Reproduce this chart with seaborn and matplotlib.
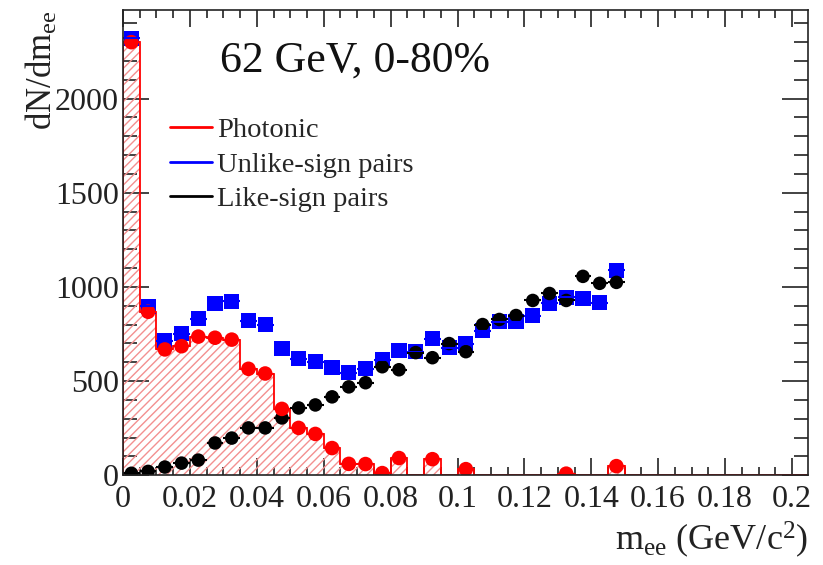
import numpy as np
import pandas as pd
import seaborn as sns
import matplotlib.pyplot as plt
from matplotlib.lines import Line2D
from matplotlib.ticker import MultipleLocator

# histogram binning (GeV/c^2)
bin_edges = np.round(np.arange(0, 0.2051, 0.005), 4)
bin_centers = np.round(bin_edges[:-1] + 0.0025, 4)
half_width = 0.0025

x_ticks = [0, 0.02, 0.04, 0.06, 0.08, 0.1, 0.12, 0.14, 0.16, 0.18, 0.2]
x_tick_labels = ['0', '0.02', '0.04', '0.06', '0.08', '0.1', '0.12', '0.14', '0.16', '0.18', '0.2']

# photonic e+e- pairs (all 41 bins, zeros are empty)
photonic = [2300, 868, 668, 685, 736, 730, 720, 565, 540, 352,
            251, 219, 144, 60, 59, 11, 91, 0, 85, 0,
            32, 0, 0, 0, 0, 0, 8, 0, 0, 48,
            0, 0, 0, 0, 0, 0, 0, 0, 0, 0, 0]

# unlike-sign and like-sign pairs (first 30 bins)
unlike = [2320, 896, 715, 752, 832, 912, 923, 821, 800, 672,
          619, 603, 571, 544, 565, 613, 661, 656, 725, 677,
          699, 768, 816, 816, 848, 912, 944, 939, 917, 1088]
like = [10, 20, 43, 64, 80, 171, 197, 251, 251, 304,
        357, 373, 416, 469, 491, 576, 560, 651, 624, 699,
        656, 800, 827, 848, 928, 965, 928, 1056, 1019, 1024]

sns.set_theme(style="ticks")
plt.rcParams['font.family'] = ['Liberation Serif', 'DejaVu Serif']
plt.rcParams['mathtext.fontset'] = 'custom'
plt.rcParams['mathtext.rm'] = 'Liberation Serif'
plt.rcParams['mathtext.it'] = 'Liberation Serif:italic'
plt.rcParams['hatch.linewidth'] = 1.0

df_pho = pd.DataFrame({"m": bin_centers, "y": photonic})
df_pho = df_pho[df_pho["y"] > 0]
df_un = pd.DataFrame({"m": bin_centers[:len(unlike)], "y": unlike})
df_like = pd.DataFrame({"m": bin_centers[:len(like)], "y": like})

fig = plt.figure(figsize=(8.23, 5.65), dpi=100)
ax = fig.add_axes([0.1495, 0.159, 0.8323, 0.823])

# hatched photonic histogram
ax.stairs(photonic, bin_edges, fill=True, hatch='////', facecolor='none',
          edgecolor='#f39090', linewidth=0)
ax.stairs(photonic, bin_edges, color='red', linewidth=1.3)

# unlike-sign
ax.errorbar(df_un["m"], df_un["y"], xerr=half_width, fmt='none', ecolor='blue', elinewidth=1.5)
sns.scatterplot(data=df_un, x="m", y="y", marker='s', s=120, color='blue', edgecolor='none', ax=ax)
# like-sign
ax.errorbar(df_like["m"], df_like["y"], xerr=half_width, fmt='none', ecolor='black', elinewidth=1.5)
sns.scatterplot(data=df_like, x="m", y="y", marker='o', s=95, color='black', edgecolor='none', ax=ax)
# photonic points
ax.errorbar(df_pho["m"], df_pho["y"], xerr=half_width, fmt='none', ecolor='red', elinewidth=1.5)
sns.scatterplot(data=df_pho, x="m", y="y", marker='o', s=110, color='red', edgecolor='none', ax=ax)

ax.set_xticks(x_ticks)
ax.set_xticklabels(x_tick_labels)
ax.xaxis.set_minor_locator(MultipleLocator(0.005))
ax.yaxis.set_major_locator(MultipleLocator(500))
ax.yaxis.set_minor_locator(MultipleLocator(100))
ax.set_xlim(0, 0.2048)
ax.set_ylim(0, 2470)
ax.tick_params(axis='both', which='both', direction='in', top=True, right=True,
               colors='#222222', labelcolor='#222222', width=1.2)
ax.tick_params(axis='x', which='major', length=12, labelsize=23, pad=7)
ax.tick_params(axis='x', which='minor', length=6)
ax.tick_params(axis='y', which='major', length=19, labelsize=23, pad=3)
ax.tick_params(axis='y', which='minor', length=10)
for sp in ax.spines.values():
    sp.set_linewidth(1.2)
    sp.set_color('#222222')

ax.set_xlabel(r"m$_{\mathrm{ee}}$ (GeV/c$^{2}$)", fontsize=26, loc='right', color='#222222')
ax.xaxis.set_label_coords(1.0, -0.095)
ax.set_ylabel(r"dN/dm$_{\mathrm{ee}}$", fontsize=25, loc='top', color='#222222')
ax.yaxis.set_label_coords(-0.092, 1.0)

ax.text(0.142, 0.867, "62 GeV, 0-80%", transform=ax.transAxes, fontsize=31.5,
        va='baseline', ha='left', color='#111111')

handles = [Line2D([], [], color='red', lw=2),
           Line2D([], [], color='blue', lw=2),
           Line2D([], [], color='black', lw=2)]
ax.legend(handles, ["Photonic", "Unlike-sign pairs", "Like-sign pairs"],
          loc='upper left', bbox_to_anchor=(0.069, 0.77), frameon=False,
          fontsize=20.5, borderpad=0, borderaxespad=0, handlelength=1.45,
          handletextpad=0.2, labelspacing=0.3)

fig.savefig("out.png", dpi=100)
